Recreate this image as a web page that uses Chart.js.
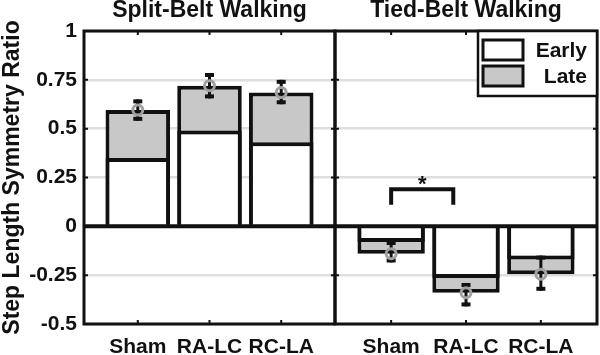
<!DOCTYPE html>
<html>
<head>
<meta charset="utf-8">
<title>Step Length Symmetry Ratio</title>
<script src="https://cdn.jsdelivr.net/npm/chart.js@4.4.1/dist/chart.umd.min.js"></script>
<style>
  html, body { margin: 0; padding: 0; background: #fff; overflow: hidden; }
  #wrap { position: relative; width: 600px; height: 355px; }
  .panel { position: absolute; top: 0; height: 355px; }
  #splitBox { left: 0; width: 338px; }
  #tiedBox { left: 330px; width: 270px; }
</style>
</head>
<body>
<div id="wrap">
  <div class="panel" id="splitBox"><canvas id="splitChart"></canvas></div>
  <div class="panel" id="tiedBox"><canvas id="tiedChart"></canvas></div>
</div>
<script>
"use strict";

// --- data ---
const groups = ['Sham', 'RA-LC', 'RC-LA'];
const groupPos = [1, 2, 3];
const yTicks = [1, 0.75, 0.5, 0.25, 0, -0.25, -0.5];
const seriesNames = ['Early', 'Late'];

// split-belt walking
const splitEarly = [0.35, 0.49, 0.43];
const splitLate = [0.595, 0.72, 0.685];
const splitLateLow = [0.54, 0.655, 0.625];
const splitLateHigh = [0.65, 0.785, 0.75];

// tied-belt walking
const tiedEarly = [-0.08, -0.265, -0.17];
const tiedLate = [-0.14, -0.34, -0.245];
const tiedLateLow = [-0.185, -0.41, -0.33];
const tiedLateHigh = [-0.075, -0.29, -0.15];

// significance bracket (tied-belt, Sham vs RA-LC)
const sigLabel = '*';
const sigFrom = 1, sigTo = 1.83;
const sigTop = 0.19, sigLeg = 0.11, sigStarY = 0.21;

// --- styles ---
const INK = '#111111';
const EARLY_FILL = '#ffffff';
const LATE_FILL = '#c8c8c8';
const GRID = '#dedede';
const MARKER = '#a0a0a0';
const FONT = "'Liberation Sans', Arial, Helvetica, sans-serif";

const pts = (vals) => vals.map((v, i) => ({ x: groupPos[i], y: v }));

// box round the axes, zero line on top of the bars, small inward tick marks
const framePlugin = {
    id: 'frame',
    afterDatasetsDraw(chart) {
        const { ctx, chartArea: a, scales: { x, y } } = chart;
        ctx.save();
        ctx.strokeStyle = INK;
        ctx.lineWidth = 2;
        ctx.beginPath();
        groupPos.forEach(v => {
            const px = x.getPixelForValue(v);
            ctx.moveTo(px, a.top); ctx.lineTo(px, a.top + 4);
            ctx.moveTo(px, a.bottom); ctx.lineTo(px, a.bottom - 4);
        });
        yTicks.forEach(v => {
            const py = y.getPixelForValue(v);
            ctx.moveTo(a.left, py); ctx.lineTo(a.left + 4, py);
            ctx.moveTo(a.right, py); ctx.lineTo(a.right - 4, py);
        });
        ctx.stroke();
        const y0 = y.getPixelForValue(0);
        ctx.lineWidth = 4;
        ctx.beginPath();
        ctx.moveTo(a.left, y0); ctx.lineTo(a.right, y0);
        ctx.stroke();
        ctx.lineWidth = 3;
        ctx.strokeRect(a.left, a.top, a.right - a.left, a.bottom - a.top);
        ctx.restore();
    }
};

// error bars on the Late means, drawn just under the marker dataset
const whiskerPlugin = {
    id: 'whiskers',
    beforeDatasetDraw(chart, args, opts) {
        if (args.meta.type !== 'scatter') return;
        const { ctx, scales: { x, y } } = chart;
        ctx.save();
        ctx.strokeStyle = INK;
        ctx.fillStyle = INK;
        ctx.lineWidth = 3;
        opts.low.forEach((lo, i) => {
            const px = x.getPixelForValue(groupPos[i]);
            const yLo = y.getPixelForValue(lo);
            const yHi = y.getPixelForValue(opts.high[i]);
            ctx.beginPath();
            ctx.moveTo(px, yLo);
            ctx.lineTo(px, yHi);
            ctx.stroke();
            ctx.fillRect(px - 4.5, yHi, 9, 4);
            ctx.fillRect(px - 4.5, yLo - 4, 9, 4);
        });
        ctx.restore();
    }
};

const sigPlugin = {
    id: 'sigBracket',
    afterDatasetsDraw(chart) {
        const { ctx, scales: { x, y } } = chart;
        const x0 = x.getPixelForValue(sigFrom), x1 = x.getPixelForValue(sigTo);
        const yTop = y.getPixelForValue(sigTop), yLeg = y.getPixelForValue(sigLeg);
        ctx.save();
        ctx.strokeStyle = INK;
        ctx.lineWidth = 4;
        ctx.lineJoin = 'miter';
        ctx.beginPath();
        ctx.moveTo(x0, yLeg); ctx.lineTo(x0, yTop); ctx.lineTo(x1, yTop); ctx.lineTo(x1, yLeg);
        ctx.stroke();
        ctx.fillStyle = INK;
        ctx.font = `bold 22px ${FONT}`;
        ctx.textAlign = 'center';
        ctx.textBaseline = 'middle';
        ctx.fillText(sigLabel, (x0 + x1) / 2, y.getPixelForValue(sigStarY));
        ctx.restore();
    }
};

// boxed legend in the top-right corner of the tied-belt axes
const legendBoxPlugin = {
    id: 'legendBox',
    afterDraw(chart) {
        const { ctx, chartArea: a } = chart;
        const w = 119, h = 65;
        const left = a.right - w, top = a.top;
        const fills = [EARLY_FILL, LATE_FILL];
        ctx.save();
        ctx.fillStyle = '#fff';
        ctx.fillRect(left, top, w, h);
        ctx.strokeStyle = INK;
        ctx.lineWidth = 2.5;
        ctx.strokeRect(left, top, w, h);
        ctx.font = `bold 21px ${FONT}`;
        ctx.textAlign = 'right';
        ctx.textBaseline = 'middle';
        seriesNames.forEach((name, i) => {
            const sy = top + 9 + i * 26;
            ctx.fillStyle = fills[i];
            ctx.fillRect(left + 5, sy, 40, 20);
            ctx.lineWidth = 3;
            ctx.strokeRect(left + 5, sy, 40, 20);
            ctx.fillStyle = INK;
            ctx.fillText(name, a.right - 10, sy + 11.5);
        });
        ctx.restore();
    }
};

function makePanel(canvasId, cfg) {
    const tickFont = { family: FONT, size: 21, weight: 'bold' };
    const barStyle = {
        borderColor: INK, borderWidth: 4, borderSkipped: 'start',
        grouped: false, barPercentage: 0.9, categoryPercentage: 1
    };
    return new Chart(document.getElementById(canvasId), {
        type: 'bar',
        data: {
            datasets: [
                {
                    type: 'scatter', label: 'Late mean', data: pts(cfg.late), order: 0,
                    pointStyle: 'circle', pointRadius: 5, pointBorderWidth: 3,
                    borderColor: MARKER, backgroundColor: 'rgba(0,0,0,0)'
                },
                { label: seriesNames[0], data: pts(cfg.early), order: 1, backgroundColor: EARLY_FILL, ...barStyle },
                { label: seriesNames[1], data: pts(cfg.late), order: 2, backgroundColor: LATE_FILL, ...barStyle }
            ]
        },
        options: {
            responsive: true, maintainAspectRatio: false, animation: false,
            layout: { padding: cfg.pad, autoPadding: false },
            plugins: {
                legend: { display: false },
                tooltip: { enabled: false },
                title: {
                    display: true, text: cfg.title, fullSize: false, color: INK,
                    font: { family: FONT, size: 23, weight: 'bold', lineHeight: 1 },
                    padding: { top: -1, bottom: 9 }
                },
                whiskers: { low: cfg.low, high: cfg.high }
            },
            scales: {
                x: {
                    type: 'linear', min: 0.25, max: 3.75, offset: false,
                    afterBuildTicks: (s) => { s.ticks = groupPos.map(v => ({ value: v })); },
                    afterFit: (s) => { s.height = 31; },
                    grid: { display: false, offset: false },
                    border: { display: false },
                    ticks: {
                        color: INK, font: tickFont, padding: 3, maxRotation: 0, autoSkip: false,
                        callback: (v, i) => groups[i]
                    }
                },
                y: {
                    min: -0.5, max: 1,
                    afterBuildTicks: (s) => { s.ticks = yTicks.map(v => ({ value: v })); },
                    afterFit: (s) => { s.width = cfg.yWidth; },
                    border: { display: false },
                    grid: {
                        drawTicks: false,
                        color: (c) => (c.tick && c.tick.value === 0 ? INK : GRID),
                        lineWidth: (c) => (c.tick && c.tick.value === 0 ? 3 : 2.5)
                    },
                    ticks: {
                        display: cfg.showY, color: INK, font: tickFont, padding: 7,
                        callback: (v) => String(v)
                    },
                    title: {
                        display: cfg.showY, text: 'Step Length Symmetry Ratio', color: INK,
                        font: { family: FONT, size: 23, weight: 'bold', lineHeight: 1 },
                        padding: { top: 1, bottom: 0 }
                    }
                }
            }
        },
        plugins: cfg.extra.concat([framePlugin, whiskerPlugin])
    });
}

makePanel('splitChart', {
    title: 'Split-Belt Walking',
    early: splitEarly, late: splitLate, low: splitLateLow, high: splitLateHigh,
    pad: { left: 0, right: 3, top: 0, bottom: 0 },
    yWidth: 84, showY: true, extra: []
});

makePanel('tiedChart', {
    title: 'Tied-Belt Walking',
    early: tiedEarly, late: tiedLate, low: tiedLateLow, high: tiedLateHigh,
    pad: { left: 5, right: 3, top: 0, bottom: 0 },
    yWidth: 0, showY: false, extra: [sigPlugin, legendBoxPlugin]
});
</script>
</body>
</html>
